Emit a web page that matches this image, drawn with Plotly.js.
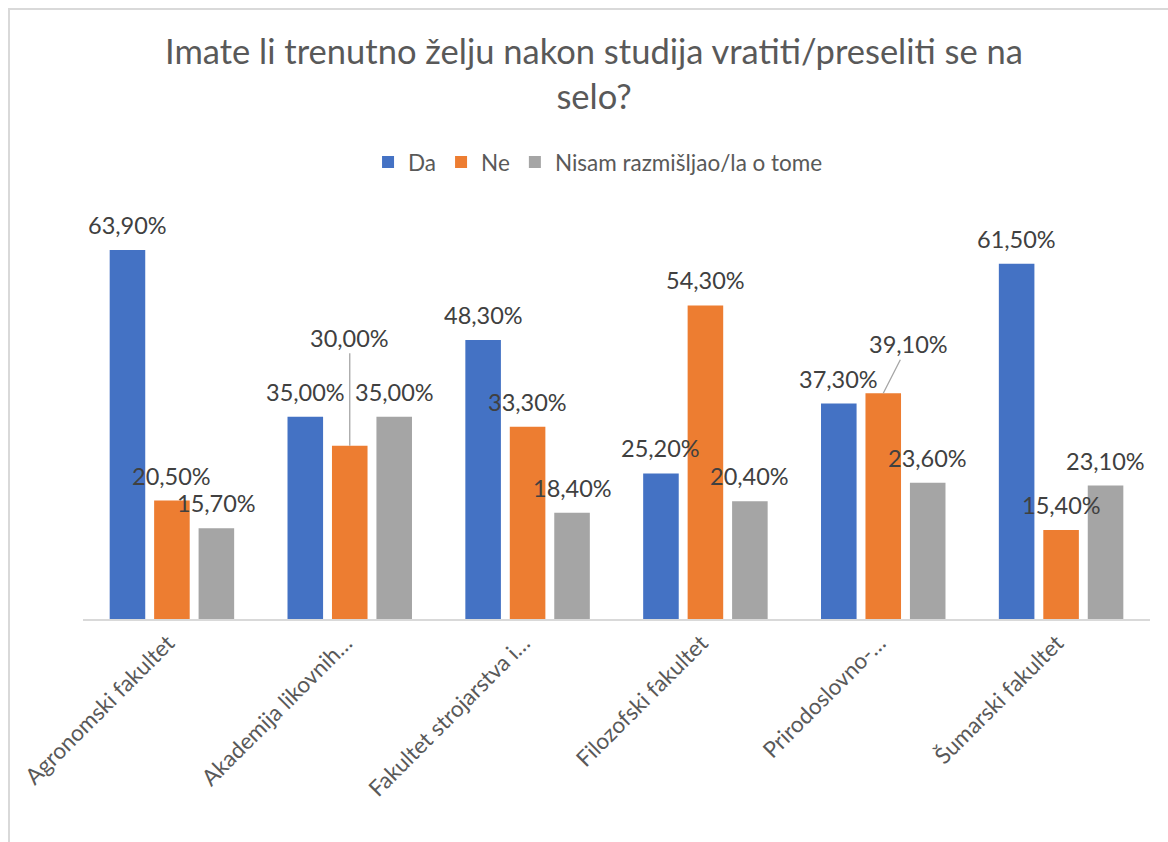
<!DOCTYPE html>
<html>
<head>
<meta charset="utf-8">
<script src="https://cdn.plot.ly/plotly-3.0.1.min.js"></script>
<style>
html,body{margin:0;padding:0;background:#fff;overflow:hidden;}
#chart{width:1168px;height:842px;position:absolute;left:0;top:0;}
#frame{position:absolute;left:8px;top:8px;width:1300px;height:1000px;border:2px solid #d9d9d9;pointer-events:none;}
</style>
</head>
<body>
<div id="chart"></div>
<div id="frame"></div>
<script>
const categories = ["Agronomski fakultet", "Akademija likovnih…", "Fakultet strojarstva i…", "Filozofski fakultet", "Prirodoslovno-…", "Šumarski fakultet"];
const seriesNames = ["Da", "Ne", "Nisam razmišljao/la o tome"];
const da = [63.9, 35.0, 48.3, 25.2, 37.3, 61.5];
const ne = [20.5, 30.0, 33.3, 54.3, 39.1, 15.4];
const nisam = [15.7, 35.0, 18.4, 20.4, 23.6, 23.1];
const colors = ["#4472C4", "#ED7D31", "#A5A5A5"];

const fmt = v => v.toFixed(2).replace('.', ',') + '%';
const FONT = 'Lato, "Open Sans", sans-serif';
const series = [da, ne, nisam];
const bargap = 0.25;
const slot = (1 - bargap) / 3;

const traces = series.map((vals, k) => ({
  type: 'bar', name: seriesNames[k], x: categories, y: vals,
  marker: {color: colors[k]}, hoverinfo: 'none'
}));

// label offsets for the two labels with leader lines (pixels)
const leader = {"1-1": [0, -108], "4-1": [25, -49]};
const annotations = [];
series.forEach((vals, k) => {
  vals.forEach((v, i) => {
    const xpos = i + (k - 1) * slot;
    const key = i + '-' + k;
    if (leader[key]) {
      annotations.push({x: xpos, y: v, xref: 'x', yref: 'y', text: fmt(v),
        showarrow: true, arrowhead: 0, arrowwidth: 1.3, arrowcolor: '#a6a6a6',
        ax: leader[key][0], ay: leader[key][1], standoff: 0,
        font: {family: FONT, size: 23.5, color: '#404040'}});
    } else {
      annotations.push({x: xpos, y: v, xref: 'x', yref: 'y', text: fmt(v),
        showarrow: false, yanchor: 'middle', yshift: 25,
        font: {family: FONT, size: 23.5, color: '#404040'}});
    }
  });
});

const layout = {
  width: 1168, height: 842,
  paper_bgcolor: '#ffffff', plot_bgcolor: '#ffffff',
  margin: {l: 83, r: 18, t: 200, b: 223},
  title: {text: 'Imate li trenutno želju nakon studija vratiti/preseliti se na<br>selo?',
    x: 0.5086, xanchor: 'center', y: 0.9236, yanchor: 'top',
    font: {family: FONT, size: 34.5, color: '#595959'}},
  barmode: 'group', bargap: bargap, bargroupgap: 0.2,
  showlegend: true,
  legend: {orientation: 'h', x: 0.4827, xanchor: 'center', xref: 'paper', y: 1.09, yanchor: 'middle',
    font: {family: FONT, size: 22.5, color: '#595959'}, itemwidth: 30, traceorder: 'normal'},
  xaxis: {type: 'category', tickangle: -45, showgrid: false, showline: true, linecolor: '#d9d9d9', linewidth: 2,
    ticks: '', ticklabelshift: -4, tickfont: {family: FONT, size: 22.5, color: '#595959'}, fixedrange: true},
  yaxis: {range: [0, 72.55], visible: false, showgrid: false, zeroline: false, fixedrange: true},
  annotations: annotations
};

Plotly.newPlot('chart', traces, layout, {displayModeBar: false, staticPlot: true});
</script>
</body>
</html>
